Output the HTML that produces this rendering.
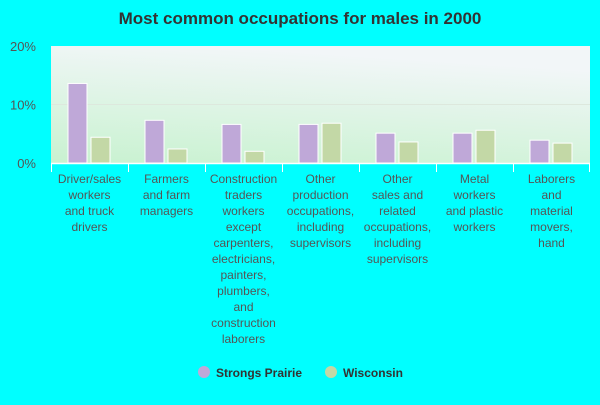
<!DOCTYPE html>
<html><head><meta charset="utf-8"><style>
body{margin:0;background:#00ffff;font-family:"Liberation Sans",sans-serif}
</style></head><body>
<svg width="600" height="400" xmlns="http://www.w3.org/2000/svg">
<defs>
<linearGradient id="bg" x1="0" y1="1" x2="0.3" y2="0">
<stop offset="0" stop-color="#c8f2d0"/><stop offset="1" stop-color="#f2f6f8"/>
</linearGradient>
</defs>
<text x="300" y="24" text-anchor="middle" font-size="17" font-weight="bold" fill="#333">Most common occupations for males in 2000</text>
<rect x="51" y="46" width="539" height="117" fill="url(#bg)"/>
<g id="grid"></g>
<g id="bars"></g>
<g id="xlabels"></g>
<g>
<circle cx="204" cy="372" r="6" fill="#bfa8d8"/>
<text x="216" y="377" font-size="12" font-weight="bold" fill="#333">Strongs Prairie</text>
<circle cx="331" cy="372" r="6" fill="#c3d8a6"/>
<text x="343" y="377" font-size="12" font-weight="bold" fill="#333">Wisconsin</text>
</g>
</svg>
<script>
const categories=[["Driver/sales","workers","and truck","drivers"],["Farmers","and farm","managers"],["Construction","traders","workers","except","carpenters,","electricians,","painters,","plumbers,","and","construction","laborers"],["Other","production","occupations,","including","supervisors"],["Other","sales and","related","occupations,","including","supervisors"],["Metal","workers","and plastic","workers"],["Laborers","and","material","movers,","hand"]];
const strongsPrairie=[13.6,7.3,6.6,6.6,5.1,5.1,3.9];
const wisconsin=[4.4,2.4,2.0,6.8,3.6,5.6,3.4];
const yTicks=[0,10,20];
const ns="http://www.w3.org/2000/svg";
const x0=51,catW=77,yBase=163,yTop=46;
function y(v){return yBase-(v/20)*(yBase-yTop);}
function mk(t,a,p){const e=document.createElementNS(ns,t);for(const k in a)e.setAttribute(k,a[k]);p.appendChild(e);return e;}
const grid=document.getElementById('grid');
yTicks.forEach(v=>{
 if(v>0&&v<20){const l=mk('line',{x1:x0,x2:590,y1:y(v),y2:y(v),stroke:'#dde8dd'},grid);
 
 }
 const t=mk('text',{x:36,y:y(v)+5,'text-anchor':'end','font-size':13,fill:'#555'},grid);
 
 
 t.textContent=v+'%';
});
const axis=mk('line',{x1:x0,x2:590,y1:yBase+0.5,y2:yBase+0.5,stroke:'#fff','stroke-width':1.5},grid);


const bars=document.getElementById('bars'),xl=document.getElementById('xlabels');
categories.forEach((c,i)=>{
 const cx=x0+i*catW;
 const b1=mk('rect',{x:cx+17,y:y(strongsPrairie[i]),width:19,height:yBase-y(strongsPrairie[i]),fill:'#bfa8d8',stroke:'#fff','stroke-width':1},bars);
 
 
 const b2=mk('rect',{x:cx+40,y:y(wisconsin[i]),width:19,height:yBase-y(wisconsin[i]),fill:'#c3d8a6',stroke:'#fff','stroke-width':1},bars);
 
 
 const tk=mk('line',{x1:cx+0.5,x2:cx+0.5,y1:yBase,y2:yBase+9,stroke:'#fff'},xl);
 
 
 const t=mk('text',{x:cx+catW/2,'text-anchor':'middle','font-size':12,fill:'#555'},xl);
 
 
 c.forEach((line,j)=>{const s=mk('tspan',{x:cx+catW/2,y:183+j*16},t);s.textContent=line;});
});
const tkl=mk('line',{x1:589.5,x2:589.5,y1:yBase,y2:yBase+9,stroke:'#fff'},xl);


</script>
</body></html>
